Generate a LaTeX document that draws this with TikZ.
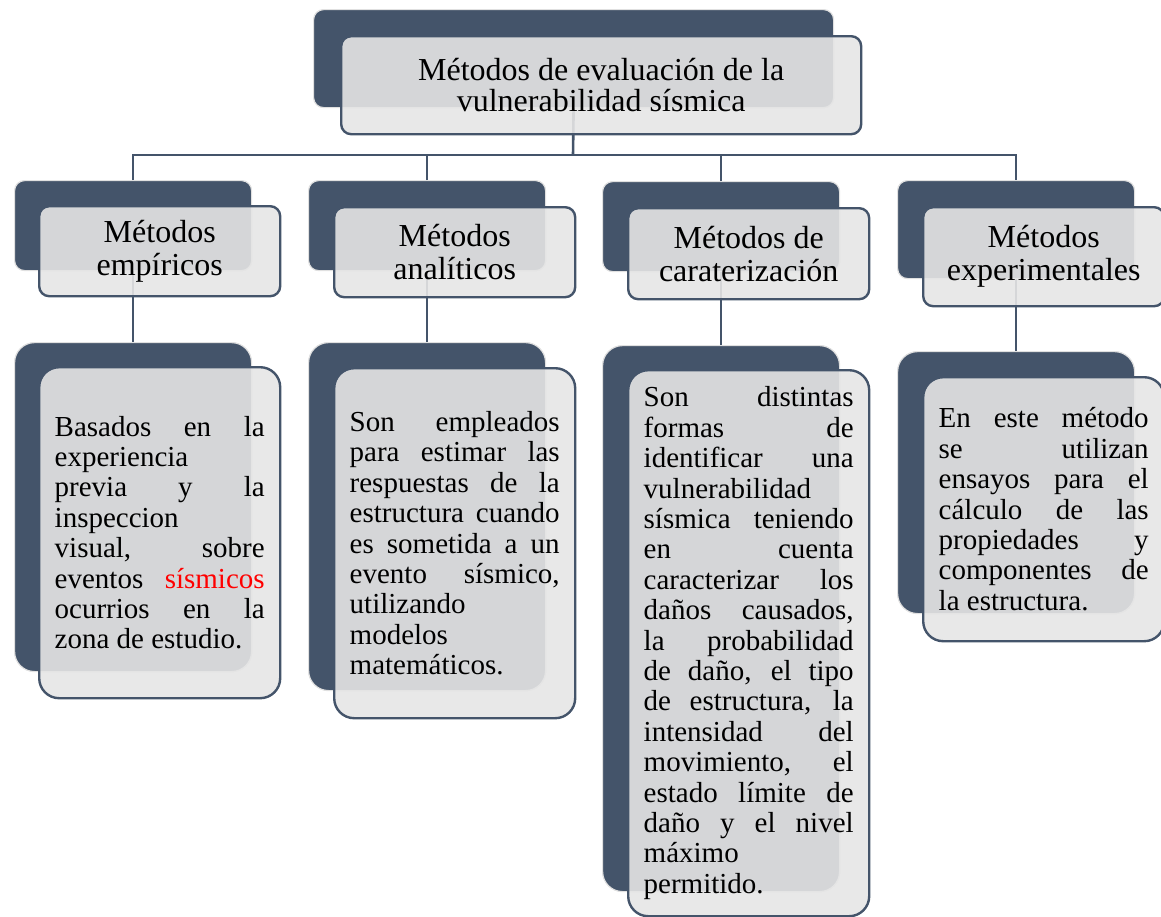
\documentclass[tikz,border=0pt]{standalone}
\usepackage{fontspec}
\setmainfont{Liberation Serif}
\definecolor{slate}{HTML}{44546A}
\definecolor{panel}{HTML}{E5E5E5}
\hbadness=10000

\begin{document}
\begin{tikzpicture}[x=0.5pt, y=-0.5pt,
  sz/.style 2 args={minimum width=#1*0.5pt, minimum height=#2*0.5pt},
  back/.style={fill=slate, draw=black!12, line width=0.6pt, anchor=north west, inner sep=0pt},
  front/.style={fill=panel, fill opacity=0.9, text opacity=1, draw=slate, line width=1.2pt,
    anchor=north west, inner sep=0pt, align=center},
  headtext/.style={font=\fontsize{16}{15.5}\selectfont},
  tagtext/.style={font=\fontsize{16}{16.5}\selectfont},
  bodytext/.style={font=\fontsize{14.5}{15.2}\selectfont, text width=105pt, align=justify},
  conn/.style={draw=slate, line width=1.3pt}]
\useasboundingbox (0,0) rectangle (1161,916);

\node[back, sz={520}{98}, rounded corners=5pt] (hb) at (313,9) {};
\node[back, sz={237}{90}, rounded corners=5pt] (c1b) at (14,180) {};
\node[back, sz={237}{90}, rounded corners=5pt] (c2b) at (308,180) {};
\node[back, sz={237}{90}, rounded corners=5pt] (c3b) at (602,181) {};
\node[back, sz={237}{98}, rounded corners=5pt] (c4b) at (897,180) {};

\node[back, sz={237}{329}, rounded corners=10pt] (c1d) at (14,342) {};
\node[back, sz={237}{348}, rounded corners=10pt] (c2d) at (308,342) {};
\node[back, sz={237}{546}, rounded corners=10pt] (c3d) at (602,345) {};
\node[back, sz={237}{262}, rounded corners=10pt] (c4d) at (897,351) {};

\coordinate (bus) at (573,155);
\draw[conn] (hb.south) -- (bus);
\draw[conn] (c1b.north) |- (bus) -| (c4b.north);
\draw[conn] (c2b.north) -- (c2b.north |- bus);
\draw[conn] (c3b.north) -- (c3b.north |- bus);
\draw[conn] (c1b.south) -- (c1d.north);
\draw[conn] (c2b.south) -- (c2d.north);
\draw[conn] (c3b.south) -- (c3d.north);
\draw[conn] (c4b.south) -- (c4d.north);

\node[front, headtext, sz={520}{98}, rounded corners=5pt] (ht) at (340,35)
  {Métodos de evaluación de la\\vulnerabilidad sísmica};
\node[front, tagtext, sz={241}{90}, rounded corners=5pt] (c1t) at (38,205) {Métodos\\empíricos};
\node[front, tagtext, sz={241}{90}, rounded corners=5pt] (c2t) at (333,206) {Métodos\\analíticos};
\node[front, tagtext, sz={241}{91}, rounded corners=5pt] (c3t) at (627,207) {Métodos de\\caraterización};
\node[front, tagtext, sz={241}{99}, rounded corners=5pt] (c4t) at (922,206) {Métodos\\experimentales};

\node[front, bodytext, sz={241}{331}, rounded corners=10pt] (c1x) at (38,366)
  {Basados en la\linebreak experiencia\linebreak previa y la\linebreak inspeccion\linebreak
   visual, sobre\linebreak eventos \textcolor{red}{sísmicos}\linebreak ocurrios en la\linebreak
   zona de estudio.};
\node[front, bodytext, sz={241}{350}, rounded corners=10pt] (c2x) at (333,367)
  {Son empleados\linebreak para estimar las\linebreak respuestas de la\linebreak
   estructura cuando\linebreak es sometida a un\linebreak evento sísmico,\linebreak
   utilizando\linebreak modelos\linebreak matemáticos.};
\node[front, bodytext, sz={241}{546}, rounded corners=10pt] (c3x) at (627,369)
  {Son distintas\linebreak formas de\linebreak identificar una\linebreak vulnerabilidad\linebreak
   sísmica teniendo\linebreak en cuenta\linebreak caracterizar los\linebreak daños causados,\linebreak
   la probabilidad\linebreak de daño, el tipo\linebreak de estructura, la\linebreak intensidad del\linebreak
   movimiento, el\linebreak estado límite de\linebreak daño y el nivel\linebreak máximo\linebreak permitido.};
\node[front, bodytext, sz={241}{264}, rounded corners=10pt] (c4x) at (922,376)
  {En este método\linebreak se utilizan\linebreak ensayos para el\linebreak cálculo de las\linebreak
   propiedades y\linebreak componentes de\linebreak la estructura.};
\end{tikzpicture}
\end{document}
